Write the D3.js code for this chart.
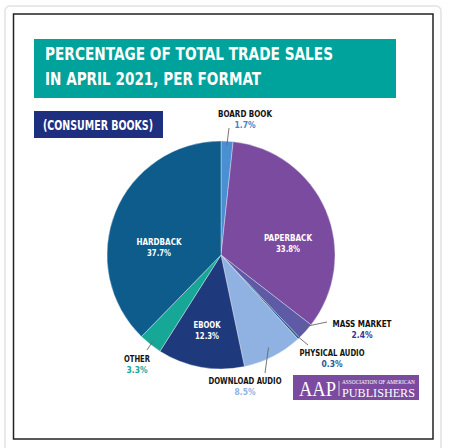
<!DOCTYPE html>
<html>
<head>
<meta charset="utf-8">
<script src="https://cdn.jsdelivr.net/npm/d3@7"></script>
<style>
  body { margin: 0; background: #fff; }
  svg { display: block; }
  .lab { font-family: 'DejaVu Sans Condensed', 'Liberation Sans Narrow', sans-serif; font-weight: bold; font-stretch: condensed; }
</style>
</head>
<body>
<script>
// data
var formats = ["BOARD BOOK", "PAPERBACK", "MASS MARKET", "PHYSICAL AUDIO",
               "DOWNLOAD AUDIO", "EBOOK", "OTHER", "HARDBACK"];
var shares = [1.7, 33.8, 2.4, 0.3, 8.5, 12.3, 3.3, 37.7];
var sliceColors = ["#4a8fd2", "#7b4b9f", "#5e5aa6", "#1b5e8e",
                   "#8fb2e2", "#1f3a7c", "#17a796", "#0d5c8c"];
var pctColors = ["#3a86d0", "#fff", "#34369a", "#1d5a96",
                 "#8fb2e2", "#fff", "#17a796", "#fff"];
var titleLines = ["PERCENTAGE OF TOTAL TRADE SALES", "IN APRIL 2021, PER FORMAT"];

function drawChart(){
    var W = 450, H = 448;
    var svg = d3.select("body").append("svg")
        .attr("width", W)
        .attr("height", H);

    // outer frames
    svg.append("rect")
        .attr("x", 5).attr("y", 6)
        .attr("width", 436).attr("height", 450)
        .attr("rx", 5)
        .attr("fill", "none")
        .attr("stroke", "#e2e2e2")
        .attr("stroke-width", 1.5);
    svg.append("rect")
        .attr("x", 13.5).attr("y", 14)
        .attr("width", 419.5).attr("height", 425)
        .attr("fill", "#fff")
        .attr("stroke", "#222")
        .attr("stroke-width", 1.5);

    // title band
    svg.append("rect")
        .attr("x", 34).attr("y", 39)
        .attr("width", 362).attr("height", 59)
        .attr("fill", "#00a39b");
    var titleW = [288, 216];
    svg.selectAll(".title")
        .data(titleLines)
        .enter()
        .append("text")
        .attr("class", "lab title")
        .attr("x", 45)
        .attr("y", function(d, i){ return 60 + i * 25; })
        .attr("fill", "#fff")
        .attr("font-size", 18)
        .attr("textLength", function(d, i){ return titleW[i]; })
        .attr("lengthAdjust", "spacingAndGlyphs")
        .text(function(d){ return d; });

    // sub box
    svg.append("rect")
        .attr("x", 34).attr("y", 111)
        .attr("width", 129).attr("height", 27)
        .attr("fill", "#1e2f80");
    svg.append("text")
        .attr("class", "lab")
        .attr("x", 43).attr("y", 130)
        .attr("fill", "#fff")
        .attr("font-size", 14)
        .attr("textLength", 110)
        .attr("lengthAdjust", "spacingAndGlyphs")
        .text("(CONSUMER BOOKS)");

    // pie
    var cx = 221, cy = 255, r = 114;
    var pie = d3.pie().sort(null).value(function(d){ return d; });
    var arcs = pie(shares);
    var arc = d3.arc().innerRadius(0).outerRadius(r);
    var g = svg.append("g").attr("transform", "translate(" + cx + "," + cy + ")");

    g.selectAll("path")
        .data(arcs)
        .enter()
        .append("path")
        .attr("d", arc)
        .attr("fill", function(d, i){ return sliceColors[i]; })
        .attr("stroke", "#e8eef8")
        .attr("stroke-width", 0.4);

    // label layout (absolute page coords); inside = white text in slice
    var layout = [
        {x: 245, y: 117, w: 54, pw: 21, inside: false, end: [229, 128], r: 110},
        {x: 288, y: 241, w: 48, pw: 24, inside: true},
        {x: 362, y: 327, w: 59, pw: 21, inside: false, end: [327, 322], r: 108},
        {x: 332, y: 356, w: 65, pw: 21, inside: false, end: [308, 345], r: 108},
        {x: 245, y: 384, w: 73, pw: 21, inside: false, end: [265, 373], r: 104},
        {x: 207, y: 328, w: 27, pw: 24, inside: true},
        {x: 137, y: 362, w: 26, pw: 21, inside: false, end: [147, 350], r: 110},
        {x: 159, y: 245, w: 45, pw: 24, inside: true}
    ];

    // leader lines
    arcs.forEach(function(a, i){
        var L = layout[i];
        if (L.inside) return;
        var mid = (a.startAngle + a.endAngle) / 2;
        svg.append("line")
            .attr("x1", cx + Math.sin(mid) * L.r)
            .attr("y1", cy - Math.cos(mid) * L.r)
            .attr("x2", L.end[0])
            .attr("y2", L.end[1])
            .attr("stroke", "#666")
            .attr("stroke-width", 0.9);
    });

    var labels = svg.selectAll(".slab")
        .data(arcs)
        .enter()
        .append("g")
        .attr("class", "slab");
    labels.append("text")
        .attr("class", "lab")
        .attr("x", function(d, i){ return layout[i].x; })
        .attr("y", function(d, i){ return layout[i].y; })
        .attr("text-anchor", "middle")
        .attr("font-size", 9.5)
        .attr("textLength", function(d, i){ return layout[i].w; })
        .attr("lengthAdjust", "spacingAndGlyphs")
        .attr("fill", function(d, i){ return layout[i].inside ? "#fff" : "#111"; })
        .text(function(d, i){ return formats[i]; });
    labels.append("text")
        .attr("class", "lab")
        .attr("x", function(d, i){ return layout[i].x; })
        .attr("y", function(d, i){ return layout[i].y + 10.5; })
        .attr("text-anchor", "middle")
        .attr("font-size", 9.5)
        .attr("textLength", function(d, i){ return layout[i].pw; })
        .attr("lengthAdjust", "spacingAndGlyphs")
        .attr("fill", function(d, i){ return pctColors[i]; })
        .text(function(d){ return d.value.toFixed(1) + "%"; });

    // AAP logo
    var logo = svg.append("g").attr("transform", "translate(293,375)");
    logo.append("rect")
        .attr("width", 126).attr("height", 25)
        .attr("fill", "#7b4ba0");
    logo.append("text")
        .attr("x", 6).attr("y", 21)
        .attr("font-family", "'Liberation Serif', serif")
        .attr("font-size", 22)
        .attr("fill", "#fff")
        .attr("textLength", 37)
        .attr("lengthAdjust", "spacingAndGlyphs")
        .text("AAP");
    logo.append("line")
        .attr("x1", 46).attr("x2", 46)
        .attr("y1", 6).attr("y2", 21)
        .attr("stroke", "#fff").attr("stroke-width", 0.7);
    logo.append("text")
        .attr("x", 49).attr("y", 8.5)
        .attr("font-family", "'Liberation Serif', serif")
        .attr("font-size", 5.2)
        .attr("fill", "#fff")
        .attr("textLength", 73)
        .attr("lengthAdjust", "spacingAndGlyphs")
        .text("ASSOCIATION OF AMERICAN");
    logo.append("text")
        .attr("x", 49).attr("y", 21.5)
        .attr("font-family", "'Liberation Serif', serif")
        .attr("font-size", 12)
        .attr("fill", "#fff")
        .attr("textLength", 73)
        .attr("lengthAdjust", "spacingAndGlyphs")
        .text("PUBLISHERS");
}

window.onload = drawChart;
</script>
</body>
</html>
